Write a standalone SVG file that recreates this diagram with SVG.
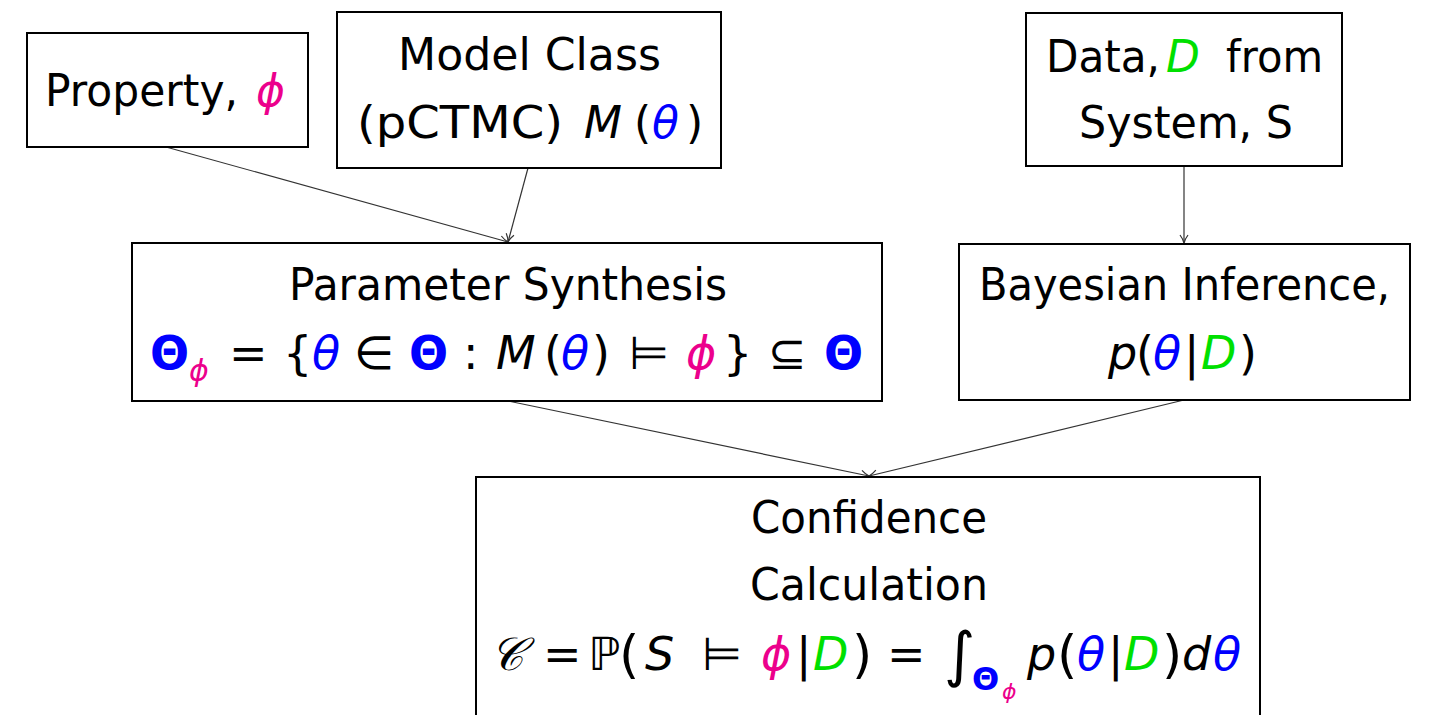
<svg xmlns="http://www.w3.org/2000/svg" width="1433" height="715" viewBox="0 0 1433 715">
<style>
.box{fill:#fff;stroke:#000;stroke-width:2}
.t{font-family:"DejaVu Sans","Liberation Sans",sans-serif;font-size:44px;fill:#000}
.m{font-family:"DejaVu Sans","Liberation Sans",sans-serif;font-size:46px;fill:#000}
.i{font-style:italic}
.b{fill:#0000ff}
.p{fill:#ec008c}
.g{fill:#00e000}
.k{font-weight:bold}
.c{stroke:#333;stroke-width:1.2;fill:none}
</style>
<defs>
<marker id="ah" markerWidth="12" markerHeight="12" refX="9" refY="5" orient="auto" markerUnits="userSpaceOnUse">
<path d="M1,1 Q5,4 9,5 Q5,6 1,9" fill="none" stroke="#333" stroke-width="1.2"/>
</marker>
</defs>
<rect width="1433" height="715" fill="#fff"/>
<g id="connectors">
<line class="c" x1="166" y1="147" x2="508" y2="242" marker-end="url(#ah)"/>
<line class="c" x1="528" y1="168" x2="508" y2="242" marker-end="url(#ah)"/>
<line class="c" x1="1184" y1="166" x2="1184" y2="243" marker-end="url(#ah)"/>
<line class="c" x1="508" y1="401" x2="869" y2="476" marker-end="url(#ah)"/>
<line class="c" x1="1184" y1="400" x2="869" y2="476" marker-end="url(#ah)"/>
</g>
<g id="property">
<rect class="box" x="27" y="33" width="281" height="114"/>
<text class="t" x="45" y="106" textLength="193" lengthAdjust="spacingAndGlyphs">Property,</text>
<text class="t p i" x="256" y="106">ϕ</text>
</g>
<g id="model">
<rect class="box" x="337" y="12" width="384" height="156"/>
<text class="t" x="398" y="70" textLength="263" lengthAdjust="spacingAndGlyphs">Model Class</text>
<text class="t" x="357" y="138"><tspan textLength="206" lengthAdjust="spacingAndGlyphs">(pCTMC)</tspan><tspan class="i" x="584">M</tspan><tspan x="634">(</tspan><tspan class="b i" x="652">θ</tspan><tspan x="686">)</tspan></text>
</g>
<g id="data">
<rect class="box" x="1026" y="13" width="316" height="153"/>
<text class="t" x="1046" y="72"><tspan textLength="114" lengthAdjust="spacingAndGlyphs">Data,</tspan><tspan class="g i" x="1166">D</tspan><tspan x="1226" textLength="97" lengthAdjust="spacingAndGlyphs">from</tspan></text>
<text class="t" x="1079" y="138" textLength="214" lengthAdjust="spacingAndGlyphs">System, S</text>
</g>
<g id="synthesis">
<rect class="box" x="132" y="243" width="750" height="158"/>
<text class="t" x="289" y="300" textLength="438" lengthAdjust="spacingAndGlyphs">Parameter Synthesis</text>
<text class="m" y="369"><tspan class="b k" x="150">Θ</tspan><tspan class="p i" font-size="30" x="189" y="381">ϕ</tspan><tspan x="229" y="369">=</tspan><tspan x="283">{</tspan><tspan class="b i" x="312">θ</tspan><tspan x="354">∈</tspan><tspan class="b k" x="409">Θ</tspan><tspan x="463">:</tspan><tspan class="i" x="496">M</tspan><tspan x="544">(</tspan><tspan class="b i" x="561">θ</tspan><tspan x="592">)</tspan><tspan x="629">⊨</tspan><tspan class="p i" x="686">ϕ</tspan><tspan x="723">}</tspan><tspan x="768">⊆</tspan><tspan class="b k" x="824">Θ</tspan></text>
</g>
<g id="bayes">
<rect class="box" x="959" y="244" width="451" height="156"/>
<text class="t" x="979" y="300" textLength="411" lengthAdjust="spacingAndGlyphs">Bayesian Inference,</text>
<text class="m" y="369"><tspan class="i" x="1108">p</tspan><tspan x="1136">(</tspan><tspan class="b i" x="1153">θ</tspan><tspan x="1184">|</tspan><tspan class="g i" x="1201">D</tspan><tspan x="1239">)</tspan></text>
</g>
<g id="confidence">
<rect class="box" x="476" y="477" width="784" height="250"/>
<text class="t" x="751" y="533" textLength="236" lengthAdjust="spacingAndGlyphs">Confidence</text>
<text class="t" x="750" y="600" textLength="238" lengthAdjust="spacingAndGlyphs">Calculation</text>
<text class="m" y="670"><tspan class="i" x="490">𝒞</tspan><tspan x="543">=</tspan><tspan x="588">ℙ</tspan><tspan x="619" font-size="52" y="672">(</tspan><tspan class="i" x="645" y="670">S</tspan><tspan x="702">⊨</tspan><tspan class="p i" x="761">ϕ</tspan><tspan x="796">|</tspan><tspan class="g i" x="813">D</tspan><tspan x="852" font-size="52" y="672">)</tspan><tspan x="887" y="670">=</tspan><tspan x="944" font-size="60" y="675">∫</tspan><tspan class="b k" font-size="32" x="972" y="690">Θ</tspan><tspan class="p i" font-size="22" x="1002" y="699">ϕ</tspan><tspan class="i" x="1027" y="670">p</tspan><tspan x="1057" font-size="52" y="672">(</tspan><tspan class="b i" x="1077" y="670">θ</tspan><tspan x="1108">|</tspan><tspan class="g i" x="1124">D</tspan><tspan x="1162" font-size="52" y="672">)</tspan><tspan class="i" x="1182" y="670">d</tspan><tspan class="b i" x="1213">θ</tspan></text>
</g>
</svg>
